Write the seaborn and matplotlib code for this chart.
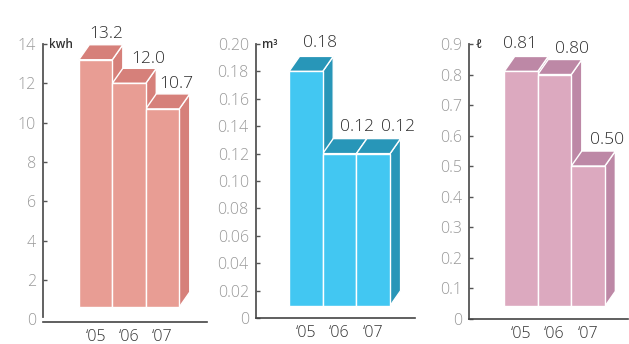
import matplotlib
matplotlib.use("Agg")
import matplotlib.pyplot as plt
from matplotlib.patches import Polygon
import seaborn as sns
import pandas as pd

# ---- data -------------------------------------------------------------
years = ["‘05", "‘06", "‘07"]

electricity = [13.2, 12.0, 10.7]          # kwh
water = [0.18, 0.12, 0.12]                # m³
fuel = [0.81, 0.80, 0.50]                 # ℓ

electricity_labels = ["13.2", "12.0", "10.7"]
water_labels = ["0.18", "0.12", "0.12"]
fuel_labels = ["0.81", "0.80", "0.50"]

units = ["kwh", "m³", "ℓ"]

electricity_ticks = [0, 2, 4, 6, 8, 10, 12, 14]
water_ticks = [0, 0.02, 0.04, 0.06, 0.08, 0.10, 0.12, 0.14, 0.16, 0.18, 0.20]
fuel_ticks = [0, 0.1, 0.2, 0.3, 0.4, 0.5, 0.6, 0.7, 0.8, 0.9]

electricity_ticklabels = ["0", "2", "4", "6", "8", "10", "12", "14"]
water_ticklabels = ["0", "0.02", "0.04", "0.06", "0.08", "0.10", "0.12",
                    "0.14", "0.16", "0.18", "0.20"]
fuel_ticklabels = ["0", "0.1", "0.2", "0.3", "0.4", "0.5", "0.6", "0.7",
                   "0.8", "0.9"]

# ---- styling / layout ---------------------------------------------------
W, H, DPI = 629, 344, 100
FONT = ["Open Sans", "DejaVu Sans"]

panels = [
    dict(values=electricity, labels=electricity_labels, unit=units[0],
         ticks=electricity_ticks, ticklabels=electricity_ticklabels,
         front="#E89D94", shade="#D6807A",
         box=(42.7, 206.7, 44, 321.7), ylim=(-0.12, 14), xlim=(-1.58, 3.32),
         spine_low=0.13, nudges=[(11, 0), (19, -2), (14, -1)]),
    dict(values=water, labels=water_labels, unit=units[1],
         ticks=water_ticks, ticklabels=water_ticklabels,
         front="#42C7F2", shade="#2896B8",
         box=(255.7, 415.0, 44, 318.0), ylim=(0, 0.20), xlim=(-1.49, 3.24),
         spine_low=0, nudges=[(14, 2), (17, 1), (25, 1)]),
    dict(values=fuel, labels=fuel_labels, unit=units[2],
         ticks=fuel_ticks, ticklabels=fuel_ticklabels,
         front="#DCA9BF", shade="#BD88A6",
         box=(469.3, 628.0, 44, 318.6), ylim=(0, 0.9), xlim=(-1.54, 3.19),
         spine_low=0, nudges=[(-1, 1), (17, 0), (19, 0)]),
]

DEPTH_X, DEPTH_Y = 10.5, 15.0      # 3-D depth of the bars, in pixels
LIFT = 12.3                        # front faces float this many pixels above 0
LABEL_RISE = 26                    # value label centre above the front top, px

sns.set_theme(style="white")
plt.rcParams["font.family"] = FONT

fig = plt.figure(figsize=(W / DPI, H / DPI), dpi=DPI)

for p in panels:
    left, right, top, bottom = p["box"]
    ax = fig.add_axes([left / W, 1 - bottom / H,
                       (right - left) / W, (bottom - top) / H])
    df = pd.DataFrame({"year": years, "value": p["values"]})
    sns.barplot(data=df, x="year", y="value", ax=ax, color=p["front"],
                width=1.0, edgecolor="white", linewidth=1.0, saturation=1)
    ax.set_xlim(*p["xlim"])
    ax.set_ylim(*p["ylim"])
    ax.set_xlabel("")
    ax.set_ylabel("")

    # pixel -> data conversion for the depth offsets
    (x0, y0), (x1, y1) = ax.transData.transform([(0, 0), (1, 1)])
    ddx = DEPTH_X / (x1 - x0)
    ddy = DEPTH_Y / (y1 - y0)
    base = LIFT / (y1 - y0)

    bars = list(ax.patches)
    for bar, v in zip(bars, p["values"]):
        bar.set_y(base)
        bar.set_height(v - base)
        bar.set_zorder(5)

    for bar, v in zip(bars, p["values"]):
        l = bar.get_x()
        r = l + bar.get_width()
        side = Polygon([(r, base), (r + ddx, base + ddy),
                        (r + ddx, v + ddy), (r, v)], closed=True,
                       facecolor=p["shade"], edgecolor="white", linewidth=1.0,
                       zorder=3)
        lid = Polygon([(l, v), (l + ddx, v + ddy), (r + ddx, v + ddy), (r, v)],
                      closed=True, facecolor=p["shade"], edgecolor="white",
                      linewidth=1.0, zorder=3)
        ax.add_patch(side)
        ax.add_patch(lid)

    for bar, v, txt, (nx, ny) in zip(bars, p["values"], p["labels"], p["nudges"]):
        cx = bar.get_x() + bar.get_width() / 2
        ax.annotate(txt, xy=(cx, v), xytext=(nx, LABEL_RISE + ny),
                    textcoords="offset pixels", ha="center", va="center",
                    fontsize=12.5, color="#2e2e2e", fontweight="light",
                    zorder=6, annotation_clip=False)

    ax.annotate(p["unit"], xy=(0, 1), xycoords="axes fraction",
                xytext=(6, 0), textcoords="offset pixels", ha="left",
                va="center", fontsize=8.5, color="#333333",
                fontweight="semibold")

    for s in ["top", "right"]:
        ax.spines[s].set_visible(False)
    ax.spines["left"].set_color("#555555")
    ax.spines["left"].set_linewidth(1.3)
    ax.spines["bottom"].set_color("#444444")
    ax.spines["bottom"].set_linewidth(1.2)
    ax.spines["left"].set_bounds(p["spine_low"], p["ylim"][1])

    ax.set_yticks(p["ticks"])
    ax.set_yticklabels(p["ticklabels"], fontweight="light")
    ax.set_xticks(range(len(years)))
    ax.set_xticklabels(years, fontweight="light")
    ax.tick_params(axis="y", direction="in", length=3, width=1,
                   color="#555555", labelcolor="#999999", labelsize=11.5,
                   pad=5, left=True)
    ax.tick_params(axis="x", length=0, labelcolor="#333333", labelsize=11.5,
                   pad=5)
    if p["spine_low"] > 0:
        ax.yaxis.get_major_ticks()[0].tick1line.set_visible(False)
    ax.set_facecolor("white")
    ax.patch.set_alpha(0)

fig.savefig("out.png", dpi=DPI, facecolor="white")
